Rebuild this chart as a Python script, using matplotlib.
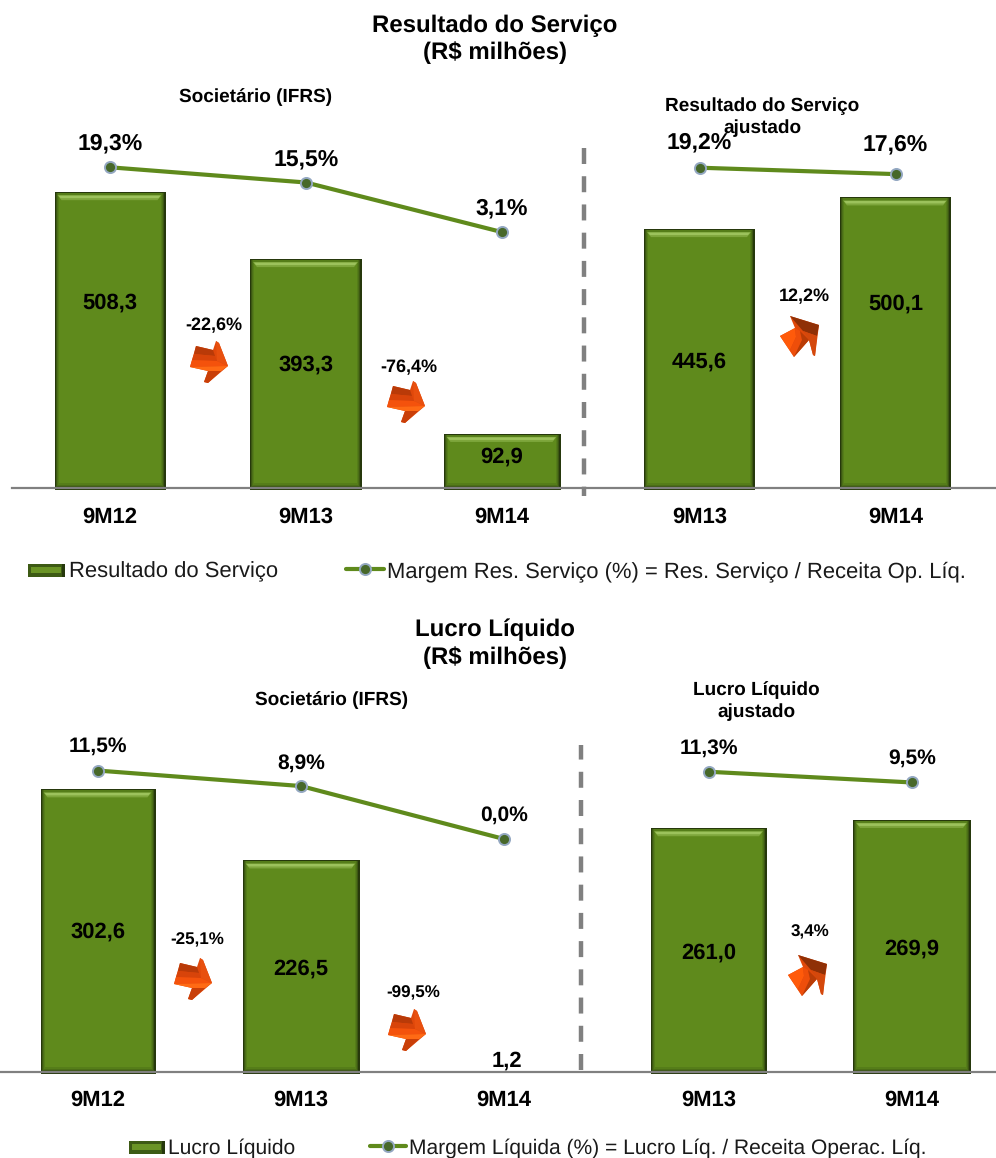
import matplotlib
matplotlib.use("Agg")
import matplotlib.pyplot as plt
from matplotlib.patches import Polygon, Rectangle

plt.rcParams["font.family"] = ["Liberation Sans", "DejaVu Sans"]
plt.rcParams["text.hinting"] = "none"
plt.rcParams["text.hinting_factor"] = 1

W, H = 996, 1158

# Operating result (R$ million) and margin (%)
periods_ifrs = ["9M12", "9M13", "9M14"]
periods_adj = ["9M13", "9M14"]
service_ifrs = [508.3, 393.3, 92.9]
service_adj = [445.6, 500.1]
service_margin_ifrs = [19.3, 15.5, 3.1]
service_margin_adj = [19.2, 17.6]
service_growth_ifrs = ["-22,6%", "-76,4%"]
service_growth_adj = ["12,2%"]

# Net income (R$ million) and margin (%)
net_ifrs = [302.6, 226.5, 1.2]
net_adj = [261.0, 269.9]
net_margin_ifrs = [11.5, 8.9, 0.0]
net_margin_adj = [11.3, 9.5]
net_growth_ifrs = ["-25,1%", "-99,5%"]
net_growth_adj = ["3,4%"]

GREEN = "#5f8a1c"
DARK = "#26380c"
LINE = "#5f8a1c"


def br(v, d=1):
    return f"{v:.{d}f}".replace(".", ",")


fig = plt.figure(figsize=(W / 100, H / 100), dpi=100, facecolor="white")


def px_axes(x0, x1, y_top, y_base):
    return fig.add_axes([x0 / W, 1 - y_base / H, (x1 - x0) / W, (y_base - y_top) / H])


def bevel_bar(ax, i, v, bar_w, ux, uy):
    """Bar with a stepped dark rim and a light strip under its top edge."""
    w = bar_w * ux
    left = i - w / 2
    ax.bar(i, v + 2 * uy, w, bottom=-2 * uy, color=DARK, linewidth=0, zorder=2, clip_on=False)
    rims = [(1.0, 2.0, "#3c5712"), (2.0, 3.0, "#4b6e17"), (3.0, 4.0, "#557d19")]
    for k, (inset_l, inset_r, col) in enumerate(rims):
        ax.add_patch(Rectangle((left + inset_l * ux, inset_l * uy),
                               w - (inset_l + inset_r) * ux, v - (inset_l + 1) * uy,
                               fc=col, ec="none", zorder=2.1 + k / 10))
    ax.add_patch(Rectangle((left + 4 * ux, 5 * uy), w - 9 * ux, v - 9 * uy,
                           fc=GREEN, ec="none", zorder=2.4))
    top = v - 3 * uy
    ax.add_patch(Polygon([(left + 3 * ux, top), (left + w - 4 * ux, top),
                          (left + w - 8 * ux, top - 5 * uy), (left + 7 * ux, top - 5 * uy)],
                         closed=True, fc="#7ea63c", ec="none", zorder=2.5))
    ax.add_patch(Polygon([(left + 4 * ux, top - 0.5 * uy), (left + w - 5 * ux, top - 0.5 * uy),
                          (left + w - 7 * ux, top - 3 * uy), (left + 6 * ux, top - 3 * uy)],
                         closed=True, fc="#9cc25c", ec="none", zorder=2.6))


def panel(x_first, spacing, bar_ws, y_base, y_top, px_per_value, line_base, px_per_pct,
          labels, values, margins, fs_pct, tick_y, value_fs, tick_fs, label_fracs, pct_gaps):
    """One group of bars with its margin line; scales are set in pixels per unit."""
    x0 = x_first - spacing / 2
    x1 = x0 + spacing * len(values)
    ax = px_axes(x0, x1, y_top, y_base)
    ax.set_xlim(-0.5, len(values) - 0.5)
    ax.set_ylim(0, (y_base - y_top) / px_per_value)
    ax.axis("off")
    ux = 1 / spacing
    uy = 1 / px_per_value
    xs = list(range(len(values)))
    for i, v, bw in zip(xs, values, bar_ws):
        if v * px_per_value >= 5:
            bevel_bar(ax, i, v, bw, ux, uy)

    # margin line on its own scale
    tw = ax.twinx()
    tw.set_ylim((line_base - y_base) / px_per_pct, (line_base - y_top) / px_per_pct)
    tw.axis("off")
    tw.plot(xs, margins, color=LINE, lw=3, solid_capstyle="round", zorder=3, clip_on=False)
    tw.plot(xs, margins, ls="none", marker="o", ms=9.4, mfc="#94a8c2", mec="none", zorder=4, clip_on=False)
    tw.plot(xs, margins, ls="none", marker="o", ms=6.6, mfc="#47682a", mec="none", zorder=5, clip_on=False)
    for i, m, gap in zip(xs, margins, pct_gaps):
        tw.annotate(br(m) + "%", (i, m), xytext=(0, gap * 0.72), textcoords="offset points", ha="center",
                    va="center", fontsize=fs_pct, fontweight="bold", color="black", zorder=6,
                    annotation_clip=False)
    for i, v, frac in zip(xs, values, label_fracs):
        if v * px_per_value < 5:
            ax.annotate(br(v), (i, v), xytext=(2, -0.5), textcoords="offset points", ha="center",
                        va="bottom", fontsize=value_fs, fontweight="bold", zorder=7,
                        annotation_clip=False)
        else:
            ax.text(i, v * frac, br(v), ha="center", va="center", fontsize=value_fs,
                    fontweight="bold", color="black", zorder=7)
    for i, lab in zip(xs, labels):
        ax.annotate(lab, (i, 0), xytext=(0, -(tick_y - y_base) * 0.72), textcoords="offset points",
                    ha="center", va="center", fontsize=tick_fs, fontweight="bold", annotation_clip=False)
    return ax


panel(110, 196, [111, 112, 117], 488, 100, 0.582, 244.5, 4.0, periods_ifrs, service_ifrs,
      service_margin_ifrs, 16.6, 517, 16.2, 16.0, [0.625, 0.537, 0.57], [24, 23, 24])
panel(699.5, 196, [111, 111], 488, 100, 0.581, 244.5, 4.0, periods_adj, service_adj,
      service_margin_adj, 16.6, 517, 16.2, 16.0, [0.486, 0.633], [25, 30])
panel(98, 203, [115, 117, 115], 1072, 700, 0.934, 839, 5.95, periods_ifrs, net_ifrs,
      net_margin_ifrs, 15.2, 1100, 15.6, 15.6, [0.496, 0.488, 0.5], [24, 23, 24])
panel(709, 203, [116, 118], 1072, 700, 0.934, 839, 5.95, periods_adj, net_adj,
      net_margin_adj, 15.2, 1100, 15.6, 15.6, [0.49, 0.49], [23, 24])

# Overlay in pixel coordinates for titles, separators, arrows and legends
ov = fig.add_axes([0, 0, 1, 1], zorder=10)
ov.set_xlim(0, W)
ov.set_ylim(H, 0)
ov.axis("off")
ov.patch.set_alpha(0)

BASE = "#808080"
ov.plot([12, 996], [488, 488], color=BASE, lw=1.6, zorder=1)
ov.plot([0, 996], [1072, 1072], color=BASE, lw=1.6, zorder=1)
ov.plot([584, 584], [148, 496], color=BASE, lw=3.2, dashes=(3.6, 2.75), dash_capstyle="butt")
ov.plot([581, 581], [1070, 745], color=BASE, lw=3.2, dashes=(3.6, 2.75), dash_capstyle="butt")


def bold(x, y, s, fs):
    ov.text(x, y, s, ha="center", va="center", fontsize=fs, fontweight="bold", color="black")


bold(495, 26, "Resultado do Serviço", 17.2)
bold(495, 53, "(R$ milhões)", 17.2)
bold(495, 630, "Lucro Líquido", 17.2)
bold(495, 658, "(R$ milhões)", 17.2)
bold(256, 97, "Societário (IFRS)", 13.4)
bold(762, 106, "Resultado do Serviço", 13.4)
bold(762, 128, "ajustado", 13.4)
bold(332, 700, "Societário (IFRS)", 13.4)
bold(756, 690, "Lucro Líquido", 13.4)
bold(756, 712, "ajustado", 13.4)

# Faceted arrows, offsets around their centres in pixels
DOWN_FACETS = [
    ("#e0480a", [(-13, -16), (4, -12), (7, -21), (10, -19), (19, 4), (-1, 21), (-5, 20), (-1, 9), (-19, 5)]),
    ("#b93a08", [(-13, -16), (4, -12), (6, -6), (-15, -8)]),
    ("#d8440a", [(-15, -8), (6, -6), (8, -1), (-17, -2)]),
    ("#f4520c", [(-17, -2), (8, -1), (19, 4), (-19, 5)]),
    ("#ff6a14", [(-19, 5), (19, 4), (12, 9), (-1, 9)]),
    ("#e8500f", [(7, -21), (10, -19), (19, 4), (8, -1)]),
    ("#c93f08", [(12, 9), (-1, 21), (-5, 20), (-1, 9)]),
]
UP_FACETS = [
    ("#e0480a", [(-10, -20), (19, -11), (15, 20), (13, 19), (9, 4), (-6, 21), (-20, 0), (-5, -8)]),
    ("#ff5a0a", [(-20, 0), (-5, -8), (-4, 1), (-10, 14), (-6, 21)]),
    ("#ee4e0a", [(-5, -8), (0, -5), (2, 4), (-6, 21), (-10, 14), (-4, 1)]),
    ("#b93c06", [(0, -5), (5, 0), (9, 4), (-6, 21), (2, 4)]),
    ("#8f3006", [(-10, -20), (19, -11), (17, 0), (3, -5)]),
    ("#d4480c", [(3, -5), (17, 0), (15, 20), (13, 19), (9, 4)]),
]


def arrow(cx, cy, facets):
    for color, pts in facets:
        ov.add_patch(Polygon([(cx + a, cy + b) for a, b in pts], closed=True, fc=color, ec="none"))


for (cx, cy), (tx, ty), lab in zip([(209, 362), (406, 402)], [(214, 326), (409, 368)], service_growth_ifrs):
    arrow(cx, cy, DOWN_FACETS)
    bold(tx, ty, lab, 13.0)
for (cx, cy), (tx, ty), lab in zip([(800, 336)], [(804, 297)], service_growth_adj):
    arrow(cx, cy, UP_FACETS)
    bold(tx, ty, lab, 13.0)
for (cx, cy), (tx, ty), lab in zip([(193, 979), (407, 1030)], [(197, 940), (413, 993)], net_growth_ifrs):
    arrow(cx, cy, DOWN_FACETS)
    bold(tx, ty, lab, 12.2)
for (cx, cy), (tx, ty), lab in zip([(808, 975)], [(810, 932)], net_growth_adj):
    arrow(cx, cy, UP_FACETS)
    bold(tx, ty, lab, 12.2)


def swatch(x0, x1, yc, h=13):
    ov.add_patch(Rectangle((x0, yc - h / 2), x1 - x0, h, fc="#3d5a14", ec="none"))
    ov.add_patch(Rectangle((x1 - 3, yc - h / 2), 3, h, fc=DARK, ec="none"))
    ov.add_patch(Rectangle((x0 + 3, yc - 3), x1 - x0 - 7, 6, fc="#6a9425", ec="none"))


def line_key(x0, x1, yc):
    ov.plot([x0, x1], [yc, yc], color=LINE, lw=3, solid_capstyle="round")
    xm = (x0 + x1) / 2
    ov.plot([xm], [yc], "o", ms=9.4, mfc="#94a8c2", mec="none")
    ov.plot([xm], [yc], "o", ms=6.6, mfc="#47682a", mec="none")


def legend_text(x, y, s, fs):
    ov.text(x, y, s, ha="left", va="center", fontsize=fs, color="#1a1a1a")


swatch(28, 65, 570)
legend_text(69, 571.5, "Resultado do Serviço", 16.2)
line_key(346, 384, 569)
legend_text(387, 571.5, "Margem Res. Serviço (%) = Res. Serviço / Receita Op. Líq.", 16.2)
swatch(129, 165, 1147)
legend_text(168, 1148.5, "Lucro Líquido", 15.4)
line_key(370, 406, 1146)
legend_text(409, 1148.5, "Margem Líquida (%) = Lucro Líq. / Receita Operac. Líq.", 15.4)

fig.savefig("out.png", dpi=100, facecolor="white")
